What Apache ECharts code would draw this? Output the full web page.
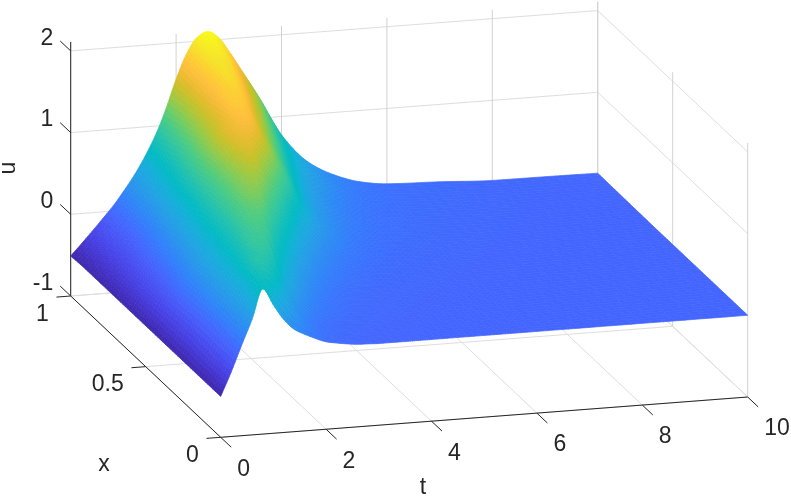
<!DOCTYPE html>
<html>
<head>
<meta charset="utf-8">
<title>u(x,t)</title>
<style>html,body{margin:0;padding:0;background:#fff}#c{width:791px;height:500px}</style>
<script src="https://cdn.jsdelivr.net/npm/echarts@6/dist/echarts.min.js"></script>
</head>
<body>
<div id="c"></div>
<script>
// ---------- values ----------
const tValues = [0,.2,.4,.6,.8,1,1.2,1.4,1.6,1.8,2,2.2,2.4,2.6,2.8,3,3.2,3.4,3.6,3.8,4,4.5,5,5.5,6,7,8,9,10];
const xValues = [0,.1,.2,.3,.4,.5,.6,.7,.8,.9,1];
const uAtX00 = [-.5,-.21,.11,.42,.78,.57,.38,.25,.18,.12,.07,.045,.025,.01,.005,0,0,0,0,0,0,0,0,0,0,0,0,0,0];
const uAtX01 = [-.5,-.22,.1,.39,.65,.94,.88,.68,.455,.27,.17,.098,.058,.037,.03,.02,.015,.01,.008,.006,.005,.003,.002,.001,0,0,0,0,0];
const uAtX02 = [-.5,-.21,.11,.38,.62,.84,1.02,1.02,.82,.62,.44,.28,.18,.115,.08,.05,.035,.028,.022,.018,.015,.008,.004,.002,.001,0,0,0,0];
const uAtX03 = [-.5,-.21,.08,.34,.56,.77,.95,1.12,1.14,.96,.77,.57,.39,.27,.18,.12,.08,.056,.04,.03,.026,.015,.008,.005,.003,.001,0,0,0];
const uAtX04 = [-.5,-.22,.05,.29,.49,.7,.9,1.1,1.27,1.33,1.15,.96,.76,.56,.39,.27,.2,.135,.095,.07,.053,.03,.018,.012,.008,.004,.002,0,0];
const uAtX05 = [-.5,-.25,-.04,.17,.39,.62,.85,1.05,1.25,1.45,1.56,1.37,1.18,.97,.74,.54,.39,.28,.2,.15,.11,.055,.035,.02,.014,.006,.003,.001,0];
const uAtX06 = [-.5,-.28,-.1,.09,.29,.52,.76,1,1.25,1.53,1.68,1.74,1.6,1.4,1.18,.96,.72,.53,.39,.3,.21,.1,.06,.045,.03,.01,.005,.002,0];
const uAtX07 = [-.5,-.32,-.16,.02,.2,.44,.68,.92,1.18,1.43,1.63,1.84,1.81,1.62,1.4,1.19,.96,.73,.55,.41,.32,.16,.087,.06,.045,.02,.008,.003,.002];
const uAtX08 = [-.5,-.35,-.21,-.05,.12,.34,.59,.81,1.06,1.33,1.58,1.8,1.95,1.85,1.64,1.43,1.22,.99,.76,.58,.45,.22,.12,.07,.055,.03,.012,.006,.004];
const uAtX09 = [-.5,-.36,-.22,-.08,.08,.28,.49,.71,.97,1.25,1.56,1.82,2,2,1.85,1.64,1.44,1.23,1,.78,.61,.35,.17,.1,.067,.04,.015,.01,.007];
const uAtX10 = [-.51,-.373,-.233,-.088,.059,.229,.414,.628,.878,1.19,1.557,1.859,2.05,2.11,2.03,1.85,1.645,1.44,1.228,.99,.774,.42,.236,.126,.077,.053,.02,.016,.01];
const uRows = [uAtX00,uAtX01,uAtX02,uAtX03,uAtX04,uAtX05,uAtX06,uAtX07,uAtX08,uAtX09,uAtX10];
const tTicks = [0,2,4,6,8,10];
const xTicks = [0,0.5,1];
const uTicks = [-1,0,1,2];
const axisNames = ['t','x','u'];

// ---------- view: MATLAB-like orthographic projection ----------
const uFloor = -1, uTop = 2.11, tEnd = 10;
function project(t, x, u) {
  return [220.7 + 52.7*t - 150*x, 437.3 - 4.03*t - 141.3*x - 81.7*(u - uFloor)];
}
const parula = [[.2422,.1504,.6603],[.2647,.1978,.7952],[.2783,.2559,.8991],[.2810,.3228,.9579],[.2699,.3892,.9906],[.2206,.4603,.9973],[.1786,.5289,.9682],[.1540,.5902,.9218],[.1248,.6459,.8883],[.0689,.6948,.8394],[.0067,.7312,.7660],[.0964,.7500,.7120],[.1938,.7758,.6251],[.2906,.7973,.5188],[.4456,.8024,.3909],[.6174,.7876,.2612],[.7738,.7598,.1646],[.9035,.7330,.1774],[.9956,.7434,.2371],[.9892,.8137,.1885],[.9610,.8963,.1541],[.9769,.9839,.0805]];
const uMin = -.51, uMax = 2.11;
function colorOf(u) {
  let p = Math.max(0, Math.min(1, (u - uMin) / (uMax - uMin))) * (parula.length - 1);
  let i = Math.min(parula.length - 2, Math.floor(p)), f = p - i;
  let c = [0,1,2].map(k => Math.round(255 * (parula[i][k] + (parula[i+1][k] - parula[i][k]) * f)));
  return 'rgb(' + c.join(',') + ')';
}

// ---------- render mesh: smooth shading between the read values ----------
function slopes(p, v) {
  const n = p.length, d = new Array(n), s = [];
  for (let i = 0; i < n - 1; i++) s.push((v[i+1]-v[i])/(p[i+1]-p[i]));
  d[0] = s[0]; d[n-1] = s[n-2];
  for (let i = 1; i < n - 1; i++) {
    if (s[i-1]*s[i] <= 0) { d[i] = 0; continue; }
    const h0 = p[i]-p[i-1], h1 = p[i+1]-p[i], w0 = 2*h1+h0, w1 = h1+2*h0;
    d[i] = (w0+w1)/(w0/s[i-1]+w1/s[i]);
  }
  return d;
}
function hermite(p, v, d, i, a) {
  const h = p[i+1]-p[i], a2 = a*a, a3 = a2*a;
  return (2*a3-3*a2+1)*v[i] + (a3-2*a2+a)*h*d[i] + (-2*a3+3*a2)*v[i+1] + (a3-a2)*h*d[i+1];
}
const SUB_T = 5, SUB_X = 6;
const rowSlopes = uRows.map(r => slopes(tValues, r));
const meshT = [], rowsOnMeshT = uRows.map(() => []);
for (let i = 0; i < tValues.length - 1; i++) {
  for (let k = 0; k < SUB_T; k++) {
    const a = k / SUB_T;
    meshT.push(tValues[i] + (tValues[i+1]-tValues[i])*a);
    uRows.forEach((r, j) => rowsOnMeshT[j].push(hermite(tValues, r, rowSlopes[j], i, a)));
  }
}
meshT.push(tValues[tValues.length-1]);
uRows.forEach((r, j) => rowsOnMeshT[j].push(r[r.length-1]));
const meshX = [];
for (let j = 0; j < xValues.length - 1; j++) for (let k = 0; k < SUB_X; k++) meshX.push(xValues[j] + (xValues[j+1]-xValues[j])*k/SUB_X);
meshX.push(1);
const meshU = meshT.map((t, c) => {
  const col = rowsOnMeshT.map(r => r[c]), d = slopes(xValues, col), out = [];
  for (let j = 0; j < xValues.length - 1; j++) for (let k = 0; k < SUB_X; k++) out.push(hermite(xValues, col, d, j, k/SUB_X));
  out.push(col[col.length-1]);
  return out;
});
const cellData = [];
for (let j = meshX.length - 2; j >= 0; j--) {
  for (let i = meshT.length - 2; i >= 0; i--) {
    cellData.push([meshT[i], meshT[i+1], meshX[j], meshX[j+1],
      meshU[i][j], meshU[i+1][j], meshU[i][j+1], meshU[i+1][j+1]]);
  }
}

// ---------- box, grid, ticks, labels ----------
const gridData = [], wallData = [], axisData = [];
tTicks.forEach(t => {
  gridData.push([t,0,uFloor,t,1,uFloor]);
  wallData.push([t,1,uFloor,t,1,uTop]);
  axisData.push([t,0,uFloor,t,-.07,uFloor]);
});
xTicks.forEach(x => {
  gridData.push([0,x,uFloor,tEnd,x,uFloor]);
  wallData.push([tEnd,x,uFloor,tEnd,x,uTop]);
  axisData.push([0,x,uFloor,-.27,x,uFloor]);
});
uTicks.forEach(u => {
  gridData.push([0,1,u,tEnd,1,u]);
  gridData.push([tEnd,0,u,tEnd,1,u]);
  axisData.push([0,1,u,0,1.07,u]);
});
axisData.push([0,0,uFloor,tEnd,0,uFloor]);
axisData.push([0,0,uFloor,0,1,uFloor]);
axisData.push([0,1,uFloor,0,1,uTop]);

const FONT = '23px "Liberation Sans", Arial, sans-serif', INK = '#262626';
const labelData = [];
tTicks.forEach(t => { const p = project(t,0,uFloor); labelData.push([p[0]+16.5, p[1]+32, String(t), 'left', 0]); });
xTicks.forEach(x => { const p = project(0,x,uFloor); labelData.push([p[0]-22, p[1]+18.5, String(x), 'right', 0]); });
uTicks.forEach(u => { const p = project(0,1,u); labelData.push([p[0]-17.5, p[1]-12.5, String(u), 'right', 0]); });
labelData.push([423, 488, axisNames[0], 'center', 0]);
labelData.push([104, 465, axisNames[1], 'center', 0]);
labelData.push([9, 168, axisNames[2], 'center', Math.PI/2]);

function segmentSeries(data, color, width, z) {
  return {
    type: 'custom', coordinateSystem: 'cartesian2d', data: data, silent: true, clip: false, z: z, animation: false,
    renderItem: function (params, api) {
      const a = api.coord(project(api.value(0), api.value(1), api.value(2)));
      const b = api.coord(project(api.value(3), api.value(4), api.value(5)));
      return { type: 'line', shape: {x1:a[0], y1:a[1], x2:b[0], y2:b[1]}, style: {stroke: color, lineWidth: width} };
    }
  };
}
const surfaceSeries = {
  type: 'custom', coordinateSystem: 'cartesian2d', data: cellData, silent: true, clip: false, z: 3,
  animation: false, progressive: 0,
  renderItem: function (params, api) {
    const t0 = api.value(0), t1 = api.value(1), x0 = api.value(2), x1 = api.value(3);
    const u00 = api.value(4), u10 = api.value(5), u01 = api.value(6), u11 = api.value(7);
    const col = colorOf((u00+u10+u01+u11)/4);
    return {
      type: 'polygon',
      shape: {points: [project(t0,x0,u00), project(t1,x0,u10), project(t1,x1,u11), project(t0,x1,u01)].map(p => api.coord(p))},
      style: {fill: col, stroke: col, lineWidth: .7}
    };
  }
};
const labelSeries = {
  type: 'custom', coordinateSystem: 'cartesian2d', data: labelData.map((d,i) => [d[0], d[1], i]),
  silent: true, clip: false, z: 5, animation: false,
  renderItem: function (params, api) {
    const d = labelData[api.value(2)];
    const p = api.coord([d[0], d[1]]);
    return { type: 'text', x: p[0], y: p[1], rotation: d[4],
      style: {text: d[2], font: FONT, fill: INK, align: d[3], verticalAlign: 'middle'} };
  }
};

const chart = echarts.init(document.getElementById('c'), null, {renderer: 'canvas', width: 791, height: 500});
chart.setOption({
  animation: false,
  backgroundColor: '#fff',
  grid: {left: 0, right: 0, top: 0, bottom: 0},
  xAxis: {type: 'value', min: 0, max: 791, show: false},
  yAxis: {type: 'value', min: 0, max: 500, inverse: true, show: false},
  series: [
    segmentSeries(gridData, '#dedede', 1, 1),
    segmentSeries(wallData, '#d2d2d2', 1, 1),
    segmentSeries(axisData, '#262626', 1, 2),
    surfaceSeries,
    labelSeries
  ]
});
</script>
</body>
</html>
